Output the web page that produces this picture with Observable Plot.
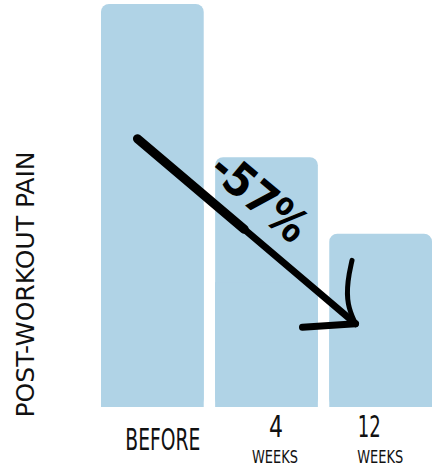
<!DOCTYPE html>
<html>
<head>
<meta charset="utf-8">
<script src="https://cdn.jsdelivr.net/npm/d3@7"></script>
<script src="https://cdn.jsdelivr.net/npm/@observablehq/plot@0.6"></script>
<style>
  html, body { margin: 0; padding: 0; background: #fff; }
  #chart svg { display: block; }
</style>
</head>
<body>
<div id="chart"></div>
<script>
// ---- data ----
const categories = ["BEFORE", "4 WEEKS", "12 WEEKS"];
const values = [100, 62, 43];
const tickTop = ["BEFORE", "4", "12"];
const tickBottom = ["", "WEEKS", "WEEKS"];
const yLabel = "POST-WORKOUT PAIN";
const changeLabel = "-57%";
// arrow (x in category-index units, y in value units)
const shaftX = [-0.135, 1.775];
const shaftY = [66.7, 20.8];
const barbUpX = [1.775, 1.700, 1.705, 1.745];
const barbUpY = [20.8, 25.5, 31.5, 36.5];
const barbLeftX = [1.775, 1.311];
const barbLeftY = [20.8, 19.9];
const changeX = [0.93];
const changeY = [52.0];

// ---- tables ----
const bars = categories.map((c, i) => ({cat: c, idx: i, value: values[i]}));
const pts = (xs, ys) => xs.map((x, i) => ({x, y: ys[i]}));
const shaft = pts(shaftX, shaftY);
const barbUp = pts(barbUpX, barbUpY);
const barbLeft = pts(barbLeftX, barbLeftY);

const FONT = "'Liberation Sans Narrow', 'DejaVu Sans Condensed', 'Roboto', sans-serif";
const BAR = "#b0d3e6";
const half = 0.45;

const labelDx = [10, 9, -12];
const subDx = [0, 8, -1];

const plot = Plot.plot({
  width: 434,
  height: 470,
  marginTop: 4,
  marginBottom: 63,
  marginLeft: 101,
  marginRight: 2,
  style: {background: "#fff", fontFamily: FONT, overflow: "visible"},
  x: {type: "linear", domain: [-half, categories.length - 1 + half], axis: null},
  y: {domain: [0, 100], axis: null},
  marks: [
    Plot.rectY(bars, {x1: d => d.idx - half, x2: d => d.idx + half, y: "value", fill: BAR, rx: 8}),
    Plot.rectY(bars, {x1: d => d.idx - half, x2: d => d.idx + half, y: d => d.value / 2, fill: BAR}),
    // tick labels
    ...tickTop.map((t, i) => Plot.text([t], {
      x: [i], frameAnchor: "bottom", lineAnchor: "middle", dy: i === 0 ? 33 : 20, dx: labelDx[i],
      text: d => d, fontSize: 30, fill: "#111", className: "tick-top"
    })),
    ...tickBottom.map((t, i) => Plot.text([t], {
      x: [i], frameAnchor: "bottom", lineAnchor: "middle", dy: 50, dx: subDx[i],
      text: d => d, fontSize: 18, fill: "#111", className: "tick-sub"
    })),
    // y label
    Plot.text([yLabel], {
      frameAnchor: "bottom-left", lineAnchor: "middle", dx: -75, dy: 10, rotate: -90, textAnchor: "start",
      text: d => d, fontSize: 24, fill: "#111", className: "ylabel"
    }),
    // arrow
    Plot.line(shaft, {x: "x", y: "y", stroke: "#000", strokeWidth: 7, strokeLinecap: "round"}),
    Plot.line(shaft, {x: "x", y: "y", stroke: "#000", strokeWidth: 9, strokeLinecap: "round", strokeDasharray: "140 1000"}),
    Plot.line(barbUp, {x: "x", y: "y", curve: "basis", stroke: "#000", strokeWidth: 5, strokeLinecap: "round"}),
    Plot.line(barbLeft, {x: "x", y: "y", stroke: "#000", strokeWidth: 7, strokeLinecap: "round"}),
    // change label
    Plot.text([changeLabel], {
      x: changeX, y: changeY, rotate: 40, text: d => d,
      fontSize: 46, fontWeight: "bold", fill: "#000", className: "change"
    })
  ]
});

document.getElementById("chart").appendChild(plot);

// fit text widths to the reference proportions
function fit(sel, lengths) {
  plot.querySelectorAll(sel).forEach((g) => {
    const t = g.tagName === "text" ? [g] : g.querySelectorAll("text");
    t.forEach(el => {
      const L = lengths[el.textContent];
      if (L) { el.setAttribute("textLength", L); el.setAttribute("lengthAdjust", "spacingAndGlyphs"); }
    });
  });
}
fit(".tick-top", {"BEFORE": 75, "4": 14, "12": 23});
fit(".tick-sub", {"WEEKS": 46});
fit(".ylabel", {"POST-WORKOUT PAIN": 266});
fit(".change", {"-57%": 112});
</script>
</body>
</html>
